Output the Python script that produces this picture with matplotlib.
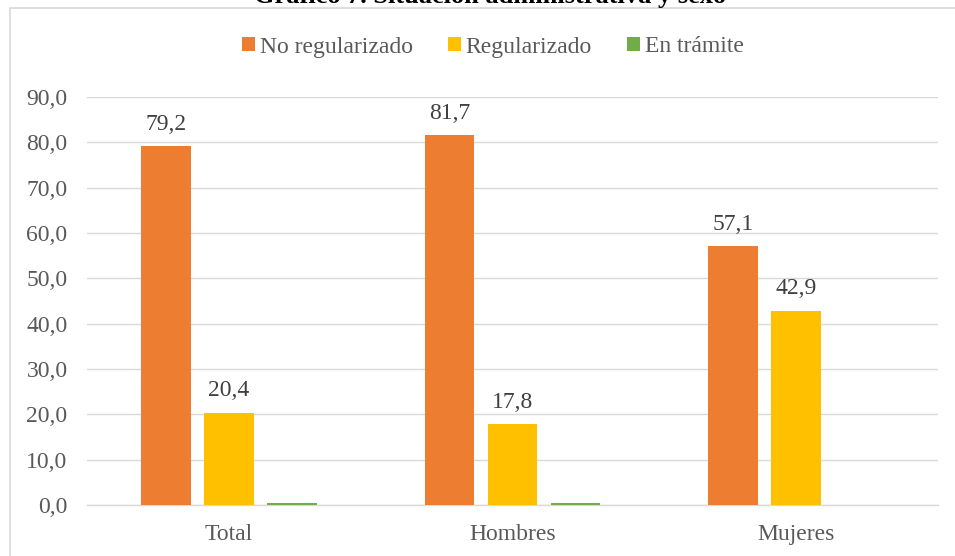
import numpy as np
import matplotlib.pyplot as plt
from matplotlib.patches import Rectangle

categories = ['Total', 'Hombres', 'Mujeres']
series = ['No regularizado', 'Regularizado', 'En trámite']
no_regularizado = [79.2, 81.7, 57.1]
regularizado = [20.4, 17.8, 42.9]
en_tramite = [0.4, 0.5, 0.0]
colors = ['#ED7D31', '#FFC000', '#70AD47']
show_labels = [True, True, False]

plt.rcParams['font.family'] = ['Liberation Serif', 'DejaVu Serif']
grey = '#595959'
fs = 17

fig = plt.figure(figsize=(9.55, 5.56), dpi=100, facecolor='white')
ax = fig.add_axes([87 / 955, 1 - 505 / 556, (938 - 87) / 955, (505 - 97) / 556])

x = np.arange(len(categories))
width = 0.176
step = 0.222
values = [no_regularizado, regularizado, en_tramite]
for i, (name, vals, col) in enumerate(zip(series, values, colors)):
    bars = ax.bar(x + (i - 1) * step, vals, width, color=col, label=name, zorder=3)
    if show_labels[i]:
        for b, v in zip(bars, vals):
            ax.annotate(('%.1f' % v).replace('.', ','),
                        (b.get_x() + b.get_width() / 2, v),
                        xytext=(0, 8), textcoords='offset points',
                        ha='center', va='bottom', fontsize=fs, color='#404040')

ax.set_xlim(-0.5, 2.5)
ax.set_ylim(0, 90)
ax.set_yticks(np.arange(0, 91, 10))
ax.set_yticklabels([('%.1f' % t).replace('.', ',') for t in np.arange(0, 91, 10)])
ax.set_xticks(x)
ax.set_xticklabels(categories)
ax.tick_params(axis='both', length=0, labelsize=fs, labelcolor=grey)
ax.tick_params(axis='y', pad=14)
ax.tick_params(axis='x', pad=14)
ax.grid(axis='y', color='#d9d9d9', linewidth=1, zorder=0)
for s in ['top', 'right', 'left']:
    ax.spines[s].set_visible(False)
ax.spines['bottom'].set_color('#d9d9d9')
ax.spines['bottom'].set_linewidth(1)

leg = fig.legend(loc='center', bbox_to_anchor=(493 / 955, 1 - 47 / 556), ncol=3,
                 frameon=False, fontsize=fs, handlelength=0.55, handleheight=0.55,
                 handletextpad=0.2, columnspacing=1.5)
for t in leg.get_texts():
    t.set_color(grey)

# chart frame
fig.patches.append(Rectangle((10 / 955, -0.1), 1.2, 1.1 - 8 / 556, transform=fig.transFigure,
                             fill=False, edgecolor='#d9d9d9', linewidth=1.2))

# title sits above the frame and is cropped at the top edge, as in the source image
fig.text(490 / 955, 1 - 3 / 556, 'Gráfico 7. Situación administrativa y sexo',
         ha='center', va='baseline', fontsize=19, fontweight='bold', color='black')

fig.savefig('out.png', dpi=100, facecolor='white')
